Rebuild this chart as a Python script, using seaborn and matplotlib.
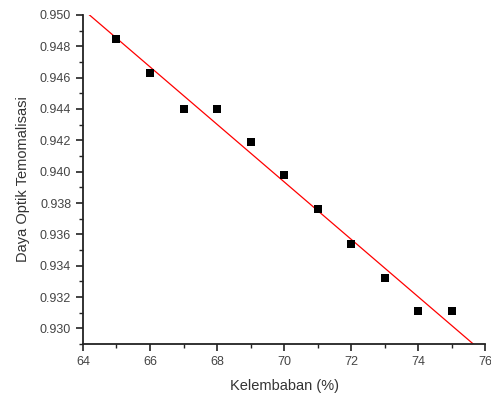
import numpy as np
import pandas as pd
import matplotlib
matplotlib.use("Agg")
import matplotlib.pyplot as plt
from matplotlib.ticker import MultipleLocator, FormatStrFormatter
import seaborn as sns

# data
kelembaban = [65, 66, 67, 68, 69, 70, 71, 72, 73, 74, 75]
daya_optik = [0.9485, 0.9463, 0.9440, 0.9440, 0.9419, 0.9398,
              0.9376, 0.9354, 0.9332, 0.9311, 0.9311]

df = pd.DataFrame({"x": kelembaban, "y": daya_optik})

sns.set_style("ticks")
plt.rcParams['font.family'] = ['Liberation Sans', 'DejaVu Sans']

fig = plt.figure(figsize=(4.91, 4.0), dpi=100)
ax = fig.add_axes([0.169, 0.14, 0.819, 0.8225])

ax.set_xlim(64, 76)
ax.set_ylim(0.929, 0.950)

sns.regplot(data=df, x="x", y="y", ax=ax, ci=None, truncate=False,
            marker="s",
            scatter_kws={"s": 26, "color": "black", "alpha": 1,
                         "zorder": 3, "linewidths": 0},
            line_kws={"color": "red", "lw": 0.9, "zorder": 2})

ax.set_xlim(64, 76)
ax.set_ylim(0.929, 0.950)

ax.xaxis.set_major_locator(MultipleLocator(2))
ax.xaxis.set_minor_locator(MultipleLocator(1))
ax.yaxis.set_major_locator(MultipleLocator(0.002))
ax.yaxis.set_minor_locator(MultipleLocator(0.001))
ax.yaxis.set_major_formatter(FormatStrFormatter("%.3f"))

sns.despine(ax=ax)
for s in ["left", "bottom"]:
    ax.spines[s].set_linewidth(1.3)
    ax.spines[s].set_color("#222222")

ax.tick_params(which="major", direction="out", length=5, width=1.2,
               labelsize=9, labelcolor="#444444", color="#222222")
ax.tick_params(which="minor", direction="out", length=3, width=1.0, color="#222222")

ax.set_xlabel("Kelembaban (%)", fontsize=10.5, color="#333333", labelpad=8)
ax.set_ylabel("Daya Optik Temomalisasi", fontsize=10.5, color="#333333", labelpad=7)

fig.savefig("out.png", dpi=100)
